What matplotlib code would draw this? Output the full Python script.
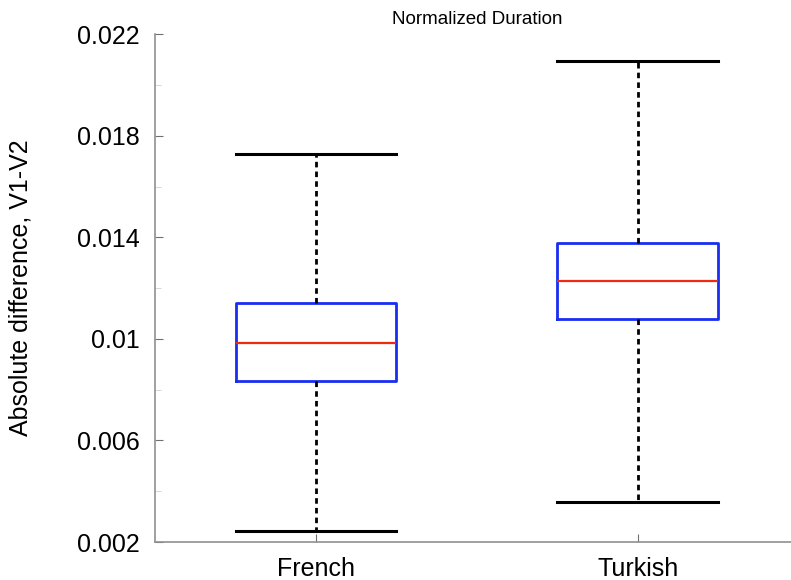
import numpy as np
import matplotlib.pyplot as plt
from matplotlib.ticker import MultipleLocator

# Box statistics
groups = ["French", "Turkish"]
whisker_low = [0.00243, 0.00357]
q1 = [0.00834, 0.01077]
median = [0.00983, 0.01228]
q3 = [0.01141, 0.01377]
whisker_high = [0.01728, 0.02094]

stats = []
for i, g in enumerate(groups):
    stats.append({"label": g, "whislo": whisker_low[i], "q1": q1[i], "med": median[i],
                  "q3": q3[i], "whishi": whisker_high[i], "fliers": []})

plt.rcParams['font.family'] = ['Liberation Sans', 'DejaVu Sans']

fig = plt.figure(figsize=(7.91, 5.8), dpi=100)
ax = fig.add_axes([0.196, 0.0655, 0.814, 0.8755])

ax.bxp(stats, positions=[1, 2], widths=0.5, showfliers=False,
       boxprops=dict(color='#1a2ef0', linewidth=2),
       medianprops=dict(color='#f02a10', linewidth=1.6),
       whiskerprops=dict(color='black', linewidth=2, linestyle=(0, (2.0, 1.5))),
       capprops=dict(color='black', linewidth=2.2),
       capwidths=0.5)

ax.set_xlim(0.5, 2.5)
ax.set_ylim(0.002, 0.022)
ax.set_yticks([0.002, 0.006, 0.01, 0.014, 0.018, 0.022])
ax.set_yticklabels(["0.002", "0.006", "0.01", "0.014", "0.018", "0.022"])
ax.yaxis.set_minor_locator(MultipleLocator(0.002))
ax.set_xticks([1, 2])
ax.set_xticklabels(groups)

for s in ['top', 'right']:
    ax.spines[s].set_visible(False)
for s in ['left', 'bottom']:
    ax.spines[s].set_color('#909090')
    ax.spines[s].set_linewidth(1.2)

ax.tick_params(axis='both', which='major', direction='in', length=6, color='#707070',
               labelsize=18, pad=11)
ax.tick_params(axis='y', which='minor', direction='in', length=4, color='#d0d0d0')

ax.set_ylabel("Absolute difference, V1-V2", fontsize=18, labelpad=32)
ax.set_title("Normalized Duration", fontsize=13.5, pad=7)

fig.savefig("out.png", dpi=100)
